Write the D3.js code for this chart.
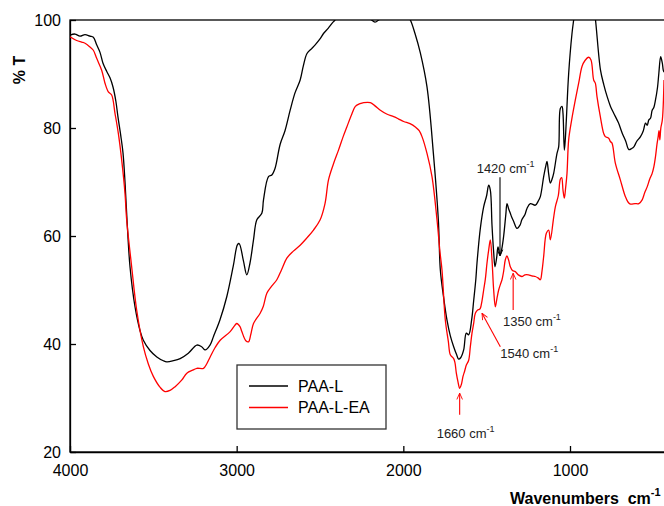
<!DOCTYPE html>
<html>
<head>
<meta charset="utf-8">
<script src="https://cdn.jsdelivr.net/npm/d3@7"></script>
<style>
  body { margin: 0; background: #fff; }
  svg { display: block; font-family: Arial, "Liberation Sans", sans-serif; }
  .axis text { font-size: 16px; fill: #000; }
  .axis path, .axis line { stroke: #000; stroke-width: 1.3; }
  .note { font-size: 13px; fill: #222; }
</style>
</head>
<body>
<div id="chart"></div>
<script>
// PAA-L spectrum (wavenumber, %T)
const paaWn = [4000,3970,3940,3910,3880,3860,3840,3820,3802,3780,3760,3742,3725,3712,3695,3682,3670,3658,3640,3610,3580,3560,3520,3479,3440,3419,3380,3339,3290,3239,3210,3189,3160,3139,3100,3059,3020,2995,2985,2960,2939,2920,2899,2879,2849,2839,2809,2789,2770,2739,2710,2679,2650,2619,2600,2578,2550,2529,2500,2479,2450,2419,2380,2320,2260,2200,2170,2140,2080,2020,1980,1958,1930,1898,1858,1820,1790,1778,1760,1738,1718,1698,1680,1668,1655,1638,1622,1608,1590,1578,1565,1558,1538,1518,1500,1488,1478,1468,1458,1450,1440,1432,1420,1410,1398,1385,1378,1368,1358,1350,1338,1318,1300,1289,1270,1258,1238,1208,1190,1178,1158,1145,1138,1128,1118,1108,1098,1078,1068,1058,1048,1042,1034,1028,1022,1008,988,978,960,900,860,847,817,797,777,757,737,710,686,665,647,630,617,600,577,560,547,537,527,517,507,497,487,475,467,456,446,436,420];
const paaT = [97.2,97.4,97.0,97.3,97.0,96.8,95.4,94.0,92.0,90.5,89.3,87.6,85,82,78.5,75.4,70,63,54.3,46.9,42.5,40.7,38.8,37.6,36.9,36.7,36.9,37.3,38.3,39.8,39.5,38.9,39.8,41.4,44.5,48.8,54.5,58.4,58.6,55.5,52.8,55,59.3,63,64.2,66.7,71,71.3,72.5,77,79.5,83.3,86.5,88.9,91.5,93.8,94.7,95.4,96.5,97.5,98.5,99.7,100.8,101.5,100.8,100.2,99.6,100.2,101.5,101.8,101,100,97.5,93.9,87.6,75.4,63,53.7,49,44.4,41.5,39.5,38,37.2,37.5,38.9,42,41.7,44.5,48,52,55,61.4,65.4,67.5,69.4,68.5,62,57,54.3,56,58,56.5,57.5,60,64,66,65,64.2,63.5,62.7,61.4,62,63,64,65.1,66,65.7,66.5,67.3,71,73,73.8,71.5,69.8,70.5,71.6,75.3,76.5,83.6,84,82.7,75.9,78,81.5,90.1,97.5,100,104,106,103,100,90.7,88,85.8,84,82.7,81,79,77.5,76.0,76.2,76.5,77.5,78.4,79.5,80.9,80.5,81.5,81.8,83.3,83.8,85.2,87.5,90.1,93.2,92.0,90.4,90.4];

// PAA-L-EA spectrum (wavenumber, %T)
const eaWn = [4000,3960,3930,3910,3880,3860,3840,3810,3790,3770,3750,3730,3710,3690,3670,3660,3630,3600,3560,3530,3500,3460,3430,3400,3369,3330,3299,3260,3239,3199,3180,3159,3130,3099,3039,3010,2999,2980,2969,2945,2929,2915,2899,2859,2840,2819,2790,2759,2730,2699,2660,2619,2580,2539,2499,2470,2449,2420,2389,2360,2339,2310,2288,2260,2238,2198,2170,2138,2100,2058,2030,1998,1960,1928,1905,1888,1858,1828,1798,1780,1768,1748,1730,1718,1698,1690,1682,1672,1662,1652,1642,1632,1622,1608,1598,1588,1578,1568,1554,1545,1538,1528,1518,1508,1498,1488,1478,1468,1458,1448,1438,1428,1418,1408,1398,1388,1378,1368,1358,1345,1328,1310,1289,1270,1249,1230,1208,1190,1178,1168,1158,1142,1128,1118,1100,1088,1070,1058,1050,1042,1034,1026,1018,1008,990,968,948,928,910,888,874,858,848,838,818,798,788,768,758,748,728,698,668,650,637,610,587,567,552,537,522,507,497,487,478,471,466,461,455,446,436];
const eaT = [96.9,96.2,95.9,95.7,95.0,94.4,92.9,90.7,88.3,86.7,86.1,82.7,79,74.1,67.9,63,54.3,46.3,39.5,36.3,34,32,31.2,31.4,32.1,33.3,34.6,35.2,35.5,35.5,36.3,37.6,39.3,40.7,42.3,43.5,43.8,43.2,42.3,40.6,40.4,41.8,43.8,45.7,47,49.4,50.7,51.9,53.8,55.9,57.2,58.3,59.6,61.1,63,66,70.4,73.3,75.9,78.5,80.2,82.5,84,84.5,84.7,84.7,84.1,83.3,82.6,82.1,81.7,81.2,80.8,80.2,79.5,78.4,75.3,71,63,57,53.7,44.4,40.5,38,37.3,36.5,34.6,33,31.8,32.5,34,35,36.1,37,39.5,42,43.8,45.7,46.3,46.4,46.6,48,50,52,55,57.4,59.3,55.6,50,46.9,48.5,50,51,51.9,53.5,55.6,56.3,55.5,54.3,53.6,53.4,52.8,52.5,52.8,52.8,52.6,52.5,52.2,51.9,53.5,56.2,60.5,61.1,59.3,63,65.4,67.5,70.5,70.8,68.5,67,69,71.6,77.8,81.5,85.2,88.3,91.4,92.5,93.1,92.6,88.9,88.3,85.8,82.1,79,78.4,78.1,77.5,77.2,73.5,70.4,67.3,66.2,65.9,66,66,66.7,68,69.1,70.5,71.6,72.8,74.7,77,78.4,79.5,77.8,80,81.5,88.9];

const xTicks = [4000, 3000, 2000, 1000];
const yTicks = [20, 40, 60, 80, 100];
const seriesNames = ["PAA-L", "PAA-L-EA"];
const seriesColors = ["#000000", "#ff0000"];

// peak annotations: label, arrow tip (wn, T), arrow tail (wn, T), text start (wn, T)
const noteLabels = ["1420", "1350", "1540", "1660"];
const noteTip = [[1420, 56.3], [1341, 53.1], [1528, 45.7], [1662, 30.9]];
const noteTail = [[1420, 70.9], [1341, 46.3], [1418, 39.5], [1662, 26.9]];
const noteText = [[1560, 71.7], [1402, 43.3], [1418, 37.4], [1800, 22.6]];
const noteColors = ["#000000", "#ff0000", "#ff0000", "#ff0000"];

const width = 664, height = 506;
const margin = { top: 20, right: -6, bottom: 54, left: 70 };
const innerW = width - margin.left - margin.right;
const innerH = height - margin.top - margin.bottom;

const svg = d3.select("#chart").append("svg")
  .attr("width", width)
  .attr("height", height);

const defs = svg.append("defs");
defs.append("clipPath").attr("id", "plotClip")
  .append("rect").attr("width", innerW).attr("height", innerH);

noteColors.forEach((c, i) => {
  defs.append("marker")
    .attr("id", "arrow" + i)
    .attr("viewBox", "0 0 10 10")
    .attr("refX", 10).attr("refY", 5)
    .attr("markerWidth", 7).attr("markerHeight", 7)
    .attr("markerUnits", "userSpaceOnUse")
    .attr("orient", "auto")
    .append("path")
    .attr("d", "M1,1 L10,5 L1,9")
    .attr("fill", "none")
    .attr("stroke", c)
    .attr("stroke-width", 1.3);
});

const g = svg.append("g")
  .attr("transform", `translate(${margin.left},${margin.top})`);

const x = d3.scaleLinear().domain([4000, 400]).range([0, innerW]);
const y = d3.scaleLinear().domain([20, 100]).range([innerH, 0]);

// frame
g.append("rect")
  .attr("width", innerW).attr("height", innerH)
  .attr("fill", "none").attr("stroke", "#000").attr("stroke-width", 1.3);

// axes with inward ticks
g.append("g")
  .attr("class", "axis")
  .attr("transform", `translate(0,${innerH})`)
  .call(d3.axisBottom(x).tickValues(xTicks).tickSizeInner(-6).tickSizeOuter(0).tickPadding(12.5).tickFormat(d3.format("d")));

g.append("g")
  .attr("class", "axis")
  .call(d3.axisLeft(y).tickValues(yTicks).tickSizeInner(-6).tickSizeOuter(0).tickPadding(9).tickFormat(d3.format("d")));

// spectra
const line = d3.line()
  .x(d => x(d[0]))
  .y(d => y(d[1]))
  .curve(d3.curveCatmullRom.alpha(0.5));

const series = [d3.zip(paaWn, paaT), d3.zip(eaWn, eaT)];

g.append("g").attr("clip-path", "url(#plotClip)")
  .selectAll("path")
  .data(series)
  .enter()
  .append("path")
  .attr("d", line)
  .attr("fill", "none")
  .attr("stroke", (d, i) => seriesColors[i])
  .attr("stroke-width", 1.3)
  .attr("stroke-linejoin", "round");

// annotations
noteLabels.forEach((lab, i) => {
  g.append("line")
    .attr("x1", x(noteTail[i][0])).attr("y1", y(noteTail[i][1]))
    .attr("x2", x(noteTip[i][0])).attr("y2", y(noteTip[i][1]))
    .attr("stroke", noteColors[i])
    .attr("stroke-width", 1.1)
    .attr("marker-end", `url(#arrow${i})`);

  const t = g.append("text")
    .attr("class", "note")
    .attr("x", x(noteText[i][0]))
    .attr("y", y(noteText[i][1]));
  t.append("tspan").text(lab + " cm");
  t.append("tspan").attr("dy", -6).attr("font-size", 9).text("-1");
});

// axis titles
svg.append("text")
  .attr("transform", "translate(25,70) rotate(-90)")
  .attr("text-anchor", "middle")
  .attr("font-size", 16)
  .attr("font-weight", "bold")
  .text("% T");

const xt = svg.append("text")
  .attr("x", 510).attr("y", 504)
  .attr("font-size", 16)
  .attr("font-weight", "bold")
  .attr("xml:space", "preserve");
xt.append("tspan").text("Wavenumbers  cm");
xt.append("tspan").attr("dy", -8).attr("font-size", 11).text("-1");

// legend
const legend = svg.append("g").attr("transform", "translate(237,365)");
legend.append("rect")
  .attr("width", 149).attr("height", 64)
  .attr("fill", "#fff").attr("stroke", "#333").attr("stroke-width", 1.3);
seriesNames.forEach((name, i) => {
  const ly = 21 + i * 21.5;
  legend.append("line")
    .attr("x1", 12).attr("x2", 51)
    .attr("y1", ly).attr("y2", ly)
    .attr("stroke", seriesColors[i]).attr("stroke-width", 1.3);
  legend.append("text")
    .attr("x", 61).attr("y", ly).attr("dy", "0.35em")
    .attr("font-size", 16)
    .text(name);
});
</script>
</body>
</html>
